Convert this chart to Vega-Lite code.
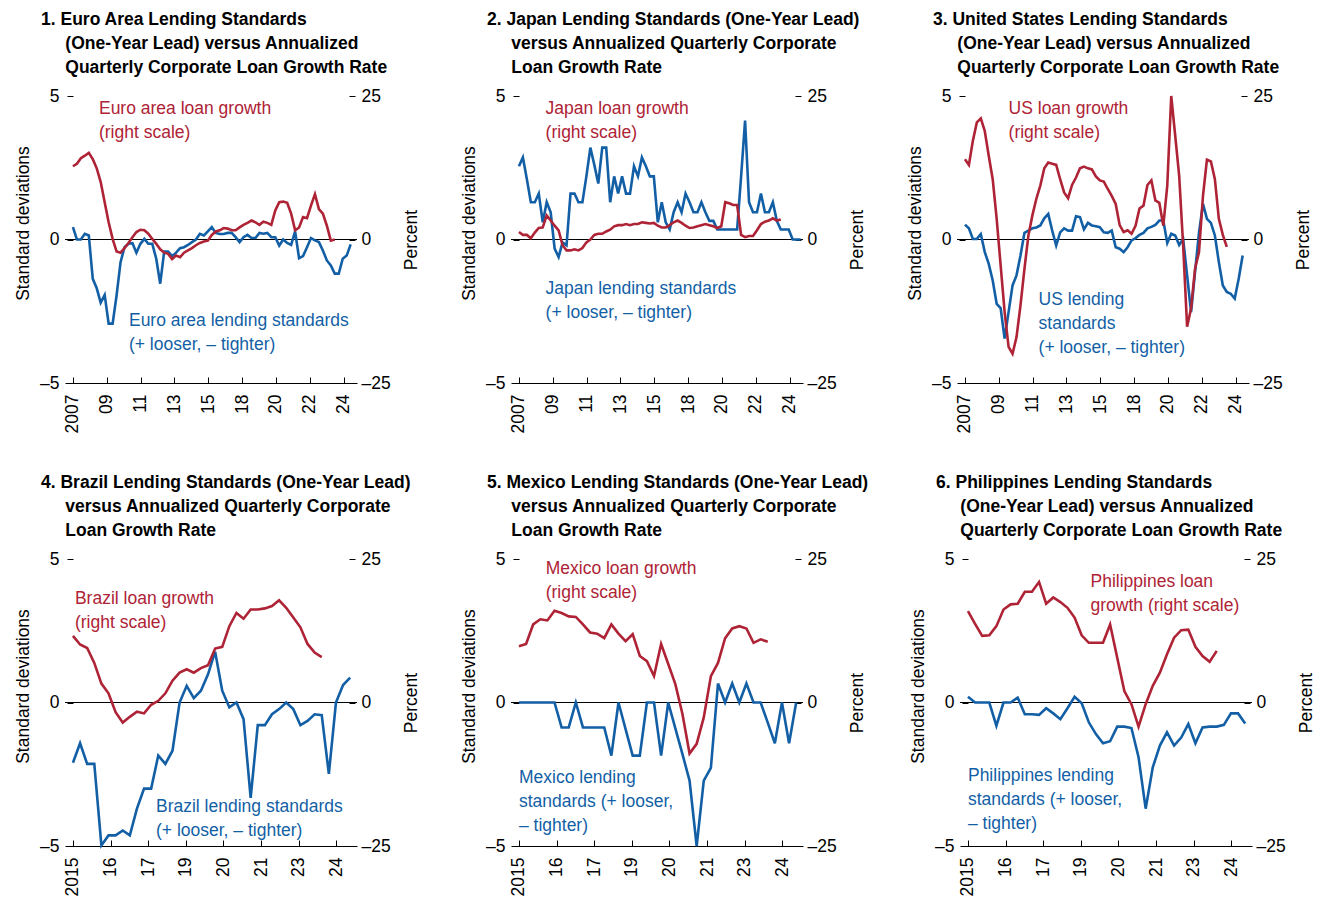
{
"$schema": "https://vega.github.io/schema/vega-lite/v6.json",
"background": "white",
"padding": {"left": 14, "top": 10, "right": 0, "bottom": 0},
"config": {"font": "Liberation Sans", "view": {"stroke": null},
  "axis": {"labelFontSize": 17.5, "titleFontSize": 17.5, "labelColor": "#000", "titleColor": "#000", "tickColor": "#000", "domainColor": "#000", "grid": false, "titleFontWeight": "normal", "labelFlush": false, "labelOverlap": false, "tickWidth": 1, "domainWidth": 1},
  "text": {"fontSize": 17.5, "lineHeight": 24, "align": "left", "baseline": "alphabetic"},
  "title": {"anchor": "start", "frame": "group", "dx": -24, "offset": 11, "fontSize": 17.5, "fontWeight": "bold", "lineHeight": 24, "color": "#000"}},
"datasets": {
"p1b": [{"t":2007,"v":0.43},{"t":2007.25,"v":0},{"t":2007.5,"v":0},{"t":2007.75,"v":0.2},{"t":2008,"v":0.14},{"t":2008.25,"v":-1.37},{"t":2008.5,"v":-1.7},{"t":2008.75,"v":-2.2},{"t":2009,"v":-1.93},{"t":2009.25,"v":-2.93},{"t":2009.5,"v":-2.93},{"t":2009.75,"v":-1.95},{"t":2010,"v":-0.79},{"t":2010.25,"v":-0.27},{"t":2010.5,"v":-0.15},{"t":2010.75,"v":-0.13},{"t":2011,"v":-0.46},{"t":2011.25,"v":-0.15},{"t":2011.5,"v":0.02},{"t":2011.75,"v":-0.15},{"t":2012,"v":-0.15},{"t":2012.25,"v":-0.67},{"t":2012.5,"v":-1.54},{"t":2012.75,"v":-0.42},{"t":2013,"v":-0.42},{"t":2013.25,"v":-0.58},{"t":2013.5,"v":-0.46},{"t":2013.75,"v":-0.3},{"t":2014,"v":-0.27},{"t":2014.25,"v":-0.19},{"t":2014.5,"v":-0.09},{"t":2014.75,"v":0},{"t":2015,"v":0.2},{"t":2015.25,"v":0.14},{"t":2015.5,"v":0.28},{"t":2015.75,"v":0.43},{"t":2016,"v":0.23},{"t":2016.25,"v":0.19},{"t":2016.5,"v":0.19},{"t":2016.75,"v":0.23},{"t":2017,"v":0.23},{"t":2017.25,"v":0.08},{"t":2017.5,"v":-0.09},{"t":2017.75,"v":0.08},{"t":2018,"v":0.16},{"t":2018.25,"v":0.05},{"t":2018.5,"v":0.05},{"t":2018.75,"v":0.23},{"t":2019,"v":0.2},{"t":2019.25,"v":0.23},{"t":2019.5,"v":0.08},{"t":2019.75,"v":0.08},{"t":2020,"v":-0.21},{"t":2020.25,"v":0},{"t":2020.5,"v":-0.12},{"t":2020.75,"v":-0.19},{"t":2021,"v":0.28},{"t":2021.25,"v":-0.65},{"t":2021.5,"v":-0.58},{"t":2021.75,"v":-0.27},{"t":2022,"v":0.05},{"t":2022.25,"v":-0.03},{"t":2022.5,"v":-0.09},{"t":2022.75,"v":-0.38},{"t":2023,"v":-0.73},{"t":2023.25,"v":-0.9},{"t":2023.5,"v":-1.19},{"t":2023.75,"v":-1.19},{"t":2024,"v":-0.67},{"t":2024.25,"v":-0.56},{"t":2024.5,"v":-0.17}],
"p1r": [{"t":2007,"v":12.76},{"t":2007.25,"v":13.2},{"t":2007.5,"v":14.15},{"t":2007.75,"v":14.6},{"t":2008,"v":15.1},{"t":2008.25,"v":14.0},{"t":2008.5,"v":12.4},{"t":2008.75,"v":10.0},{"t":2009,"v":6.5},{"t":2009.25,"v":3.0},{"t":2009.5,"v":0.1},{"t":2009.75,"v":-2.1},{"t":2010,"v":-2.3},{"t":2010.25,"v":-1.5},{"t":2010.5,"v":-0.6},{"t":2010.75,"v":0.4},{"t":2011,"v":1.3},{"t":2011.25,"v":1.7},{"t":2011.5,"v":1.6},{"t":2011.75,"v":1.0},{"t":2012,"v":0.1},{"t":2012.25,"v":-0.75},{"t":2012.5,"v":-1.7},{"t":2012.75,"v":-2.3},{"t":2013,"v":-2.5},{"t":2013.25,"v":-3.4},{"t":2013.5,"v":-2.8},{"t":2013.75,"v":-3.1},{"t":2014,"v":-2.3},{"t":2014.25,"v":-1.9},{"t":2014.5,"v":-1.5},{"t":2014.75,"v":-1.0},{"t":2015,"v":-0.6},{"t":2015.25,"v":-0.35},{"t":2015.5,"v":-0.2},{"t":2015.75,"v":0.8},{"t":2016,"v":1.4},{"t":2016.25,"v":1.6},{"t":2016.5,"v":2.0},{"t":2016.75,"v":1.9},{"t":2017,"v":1.6},{"t":2017.25,"v":1.6},{"t":2017.5,"v":2.1},{"t":2017.75,"v":2.55},{"t":2018,"v":2.9},{"t":2018.25,"v":3.3},{"t":2018.5,"v":3.0},{"t":2018.75,"v":2.55},{"t":2019,"v":3.1},{"t":2019.25,"v":2.9},{"t":2019.5,"v":2.55},{"t":2019.75,"v":5.05},{"t":2020,"v":6.5},{"t":2020.25,"v":6.6},{"t":2020.5,"v":6.4},{"t":2020.75,"v":4.5},{"t":2021,"v":1.6},{"t":2021.25,"v":2.1},{"t":2021.5,"v":3.9},{"t":2021.75,"v":3.7},{"t":2022,"v":5.9},{"t":2022.25,"v":7.9},{"t":2022.5,"v":5.3},{"t":2022.75,"v":4.5},{"t":2023,"v":2.4},{"t":2023.25,"v":-0.2},{"t":2023.5,"v":0}],
"p2b": [{"t":2007,"v":2.55},{"t":2007.25,"v":2.86},{"t":2007.5,"v":2.1},{"t":2007.75,"v":1.3},{"t":2008,"v":1.3},{"t":2008.25,"v":1.6},{"t":2008.5,"v":0.6},{"t":2008.75,"v":1.3},{"t":2009,"v":0.95},{"t":2009.25,"v":-0.32},{"t":2009.5,"v":-0.61},{"t":2009.75,"v":-0.1},{"t":2010,"v":-0.2},{"t":2010.25,"v":1.6},{"t":2010.5,"v":1.6},{"t":2010.75,"v":1.3},{"t":2011,"v":1.3},{"t":2011.25,"v":2.2},{"t":2011.5,"v":3.2},{"t":2011.75,"v":2.6},{"t":2012,"v":1.95},{"t":2012.25,"v":3.2},{"t":2012.5,"v":3.2},{"t":2012.75,"v":1.3},{"t":2013,"v":2.2},{"t":2013.25,"v":1.6},{"t":2013.5,"v":2.2},{"t":2013.75,"v":1.6},{"t":2014,"v":1.6},{"t":2014.25,"v":2.55},{"t":2014.5,"v":2.2},{"t":2014.75,"v":2.86},{"t":2015,"v":2.55},{"t":2015.25,"v":2.2},{"t":2015.5,"v":2.2},{"t":2015.75,"v":0.6},{"t":2016,"v":1.3},{"t":2016.25,"v":0.6},{"t":2016.5,"v":0.35},{"t":2016.75,"v":0.95},{"t":2017,"v":1.3},{"t":2017.25,"v":0.95},{"t":2017.5,"v":1.6},{"t":2017.75,"v":1.3},{"t":2018,"v":0.95},{"t":2018.25,"v":0.95},{"t":2018.5,"v":1.3},{"t":2018.75,"v":0.95},{"t":2019,"v":0.65},{"t":2019.25,"v":0.65},{"t":2019.5,"v":0.35},{"t":2019.75,"v":0.35},{"t":2020,"v":0.35},{"t":2020.25,"v":0.35},{"t":2020.5,"v":0.35},{"t":2020.75,"v":0.35},{"t":2021,"v":2.2},{"t":2021.25,"v":4.14},{"t":2021.5,"v":1.3},{"t":2021.75,"v":0.95},{"t":2022,"v":0.95},{"t":2022.25,"v":1.6},{"t":2022.5,"v":0.95},{"t":2022.75,"v":0.95},{"t":2023,"v":1.3},{"t":2023.25,"v":0.65},{"t":2023.5,"v":0.35},{"t":2023.75,"v":0.35},{"t":2024,"v":0.35},{"t":2024.25,"v":0},{"t":2024.5,"v":0},{"t":2024.75,"v":0}],
"p2r": [{"t":2007,"v":1.3},{"t":2007.25,"v":0.8},{"t":2007.5,"v":0.8},{"t":2007.75,"v":0.2},{"t":2008,"v":1.2},{"t":2008.25,"v":2.0},{"t":2008.5,"v":2.1},{"t":2008.75,"v":4.2},{"t":2009,"v":3.3},{"t":2009.25,"v":2.4},{"t":2009.5,"v":1.6},{"t":2009.75,"v":-1.0},{"t":2010,"v":-1.9},{"t":2010.25,"v":-1.9},{"t":2010.5,"v":-1.7},{"t":2010.75,"v":-1.9},{"t":2011,"v":-1.5},{"t":2011.25,"v":-0.5},{"t":2011.5,"v":0},{"t":2011.75,"v":0.8},{"t":2012,"v":1.0},{"t":2012.25,"v":1.0},{"t":2012.5,"v":1.4},{"t":2012.75,"v":1.7},{"t":2013,"v":2.3},{"t":2013.25,"v":2.5},{"t":2013.5,"v":2.5},{"t":2013.75,"v":2.7},{"t":2014,"v":2.5},{"t":2014.25,"v":2.7},{"t":2014.5,"v":2.7},{"t":2014.75,"v":3.0},{"t":2015,"v":2.9},{"t":2015.25,"v":2.8},{"t":2015.5,"v":2.9},{"t":2015.75,"v":2.4},{"t":2016,"v":2.1},{"t":2016.25,"v":2.1},{"t":2016.5,"v":2.5},{"t":2016.75,"v":3.0},{"t":2017,"v":3.3},{"t":2017.25,"v":2.9},{"t":2017.5,"v":2.4},{"t":2017.75,"v":2.0},{"t":2018,"v":2.1},{"t":2018.25,"v":2.3},{"t":2018.5,"v":2.5},{"t":2018.75,"v":2.7},{"t":2019,"v":2.5},{"t":2019.25,"v":2.3},{"t":2019.5,"v":2.0},{"t":2019.75,"v":2.3},{"t":2020,"v":6.5},{"t":2020.25,"v":6.3},{"t":2020.5,"v":6.0},{"t":2020.75,"v":6.0},{"t":2021,"v":0.8},{"t":2021.25,"v":0.4},{"t":2021.5,"v":0.6},{"t":2021.75,"v":0.6},{"t":2022,"v":1.6},{"t":2022.25,"v":2.7},{"t":2022.5,"v":3.1},{"t":2022.75,"v":3.3},{"t":2023,"v":3.7},{"t":2023.25,"v":3.3},{"t":2023.5,"v":3.5}],
"p3b": [{"t":2007,"v":0.52},{"t":2007.25,"v":0.39},{"t":2007.5,"v":0.02},{"t":2007.75,"v":0.02},{"t":2008,"v":0.19},{"t":2008.25,"v":-0.44},{"t":2008.5,"v":-0.85},{"t":2008.75,"v":-1.43},{"t":2009,"v":-2.24},{"t":2009.25,"v":-2.39},{"t":2009.5,"v":-3.45},{"t":2009.75,"v":-2.53},{"t":2010,"v":-1.6},{"t":2010.25,"v":-1.25},{"t":2010.5,"v":-0.56},{"t":2010.75,"v":0.23},{"t":2011,"v":0.31},{"t":2011.25,"v":0.39},{"t":2011.5,"v":0.42},{"t":2011.75,"v":0.49},{"t":2012,"v":0.74},{"t":2012.25,"v":0.89},{"t":2012.5,"v":0.31},{"t":2012.75,"v":-0.21},{"t":2013,"v":0.25},{"t":2013.25,"v":0.39},{"t":2013.5,"v":0.31},{"t":2013.75,"v":0.31},{"t":2014,"v":0.81},{"t":2014.25,"v":0.78},{"t":2014.5,"v":0.35},{"t":2014.75,"v":0.58},{"t":2015,"v":0.49},{"t":2015.25,"v":0.46},{"t":2015.5,"v":0.43},{"t":2015.75,"v":0.25},{"t":2016,"v":0.23},{"t":2016.25,"v":0.31},{"t":2016.5,"v":-0.27},{"t":2016.75,"v":-0.32},{"t":2017,"v":-0.44},{"t":2017.25,"v":-0.27},{"t":2017.5,"v":-0.03},{"t":2017.75,"v":0.05},{"t":2018,"v":0.16},{"t":2018.25,"v":0.23},{"t":2018.5,"v":0.39},{"t":2018.75,"v":0.44},{"t":2019,"v":0.51},{"t":2019.25,"v":0.66},{"t":2019.5,"v":0.66},{"t":2019.75,"v":-0.12},{"t":2020,"v":0.2},{"t":2020.25,"v":0.14},{"t":2020.5,"v":-0.19},{"t":2020.75,"v":0.02},{"t":2021,"v":-1.25},{"t":2021.25,"v":-2.53},{"t":2021.5,"v":-1.14},{"t":2021.75,"v":0.25},{"t":2022,"v":1.24},{"t":2022.25,"v":0.72},{"t":2022.5,"v":0.58},{"t":2022.75,"v":0.14},{"t":2023,"v":-0.79},{"t":2023.25,"v":-1.6},{"t":2023.5,"v":-1.83},{"t":2023.75,"v":-1.89},{"t":2024,"v":-2.06},{"t":2024.25,"v":-1.37},{"t":2024.5,"v":-0.56}],
"p3r": [{"t":2007,"v":14.0},{"t":2007.25,"v":13.0},{"t":2007.5,"v":17.2},{"t":2007.75,"v":20.4},{"t":2008,"v":21.1},{"t":2008.25,"v":18.9},{"t":2008.5,"v":14.6},{"t":2008.75,"v":10.5},{"t":2009,"v":3.6},{"t":2009.25,"v":-4.5},{"t":2009.5,"v":-12.6},{"t":2009.75,"v":-18.7},{"t":2010,"v":-19.9},{"t":2010.25,"v":-17.0},{"t":2010.5,"v":-11.5},{"t":2010.75,"v":-5.1},{"t":2011,"v":0.7},{"t":2011.25,"v":4.2},{"t":2011.5,"v":7.1},{"t":2011.75,"v":9.4},{"t":2012,"v":12.4},{"t":2012.25,"v":13.4},{"t":2012.5,"v":13.2},{"t":2012.75,"v":13.0},{"t":2013,"v":10.5},{"t":2013.25,"v":8.2},{"t":2013.5,"v":7.2},{"t":2013.75,"v":9.5},{"t":2014,"v":10.8},{"t":2014.25,"v":12.4},{"t":2014.5,"v":12.7},{"t":2014.75,"v":12.4},{"t":2015,"v":12.2},{"t":2015.25,"v":11.0},{"t":2015.5,"v":10.3},{"t":2015.75,"v":10.1},{"t":2016,"v":8.8},{"t":2016.25,"v":7.6},{"t":2016.5,"v":6.2},{"t":2016.75,"v":2.5},{"t":2017,"v":1.3},{"t":2017.25,"v":1.6},{"t":2017.5,"v":1.0},{"t":2017.75,"v":2.4},{"t":2018,"v":5.4},{"t":2018.25,"v":5.9},{"t":2018.5,"v":9.5},{"t":2018.75,"v":10.3},{"t":2019,"v":6.8},{"t":2019.25,"v":6.4},{"t":2019.5,"v":2.4},{"t":2019.75,"v":9.4},{"t":2020,"v":25.0},{"t":2020.25,"v":18.1},{"t":2020.5,"v":11.1},{"t":2020.75,"v":-1.0},{"t":2021,"v":-15.2},{"t":2021.25,"v":-12.0},{"t":2021.5,"v":-5.1},{"t":2021.75,"v":-2.2},{"t":2022,"v":7.6},{"t":2022.25,"v":13.9},{"t":2022.5,"v":13.6},{"t":2022.75,"v":10.5},{"t":2023,"v":3.6},{"t":2023.25,"v":0.8},{"t":2023.5,"v":-1.3}],
"p4b": [{"t":2015,"v":-2.1},{"t":2015.25,"v":-1.42},{"t":2015.5,"v":-2.14},{"t":2015.75,"v":-2.14},{"t":2016,"v":-4.98},{"t":2016.25,"v":-4.63},{"t":2016.5,"v":-4.63},{"t":2016.75,"v":-4.46},{"t":2017,"v":-4.63},{"t":2017.25,"v":-3.7},{"t":2017.5,"v":-3.0},{"t":2017.75,"v":-3.0},{"t":2018,"v":-1.85},{"t":2018.25,"v":-2.14},{"t":2018.5,"v":-1.68},{"t":2018.75,"v":0},{"t":2019,"v":0.58},{"t":2019.25,"v":0.15},{"t":2019.5,"v":0.41},{"t":2019.75,"v":0.98},{"t":2020,"v":1.77},{"t":2020.25,"v":0.41},{"t":2020.5,"v":-0.17},{"t":2020.75,"v":0},{"t":2021,"v":-0.58},{"t":2021.25,"v":-3.32},{"t":2021.5,"v":-0.79},{"t":2021.75,"v":-0.79},{"t":2022,"v":-0.41},{"t":2022.25,"v":-0.23},{"t":2022.5,"v":0},{"t":2022.75,"v":-0.23},{"t":2023,"v":-0.79},{"t":2023.25,"v":-0.64},{"t":2023.5,"v":-0.41},{"t":2023.75,"v":-0.44},{"t":2024,"v":-2.49},{"t":2024.25,"v":0},{"t":2024.5,"v":0.61},{"t":2024.75,"v":0.87}],
"p4r": [{"t":2015,"v":11.6},{"t":2015.25,"v":10.1},{"t":2015.5,"v":9.5},{"t":2015.75,"v":6.9},{"t":2016,"v":3.3},{"t":2016.25,"v":1.6},{"t":2016.5,"v":-1.7},{"t":2016.75,"v":-3.5},{"t":2017,"v":-2.5},{"t":2017.25,"v":-1.6},{"t":2017.5,"v":-1.9},{"t":2017.75,"v":-0.4},{"t":2018,"v":0.3},{"t":2018.25,"v":1.6},{"t":2018.5,"v":3.8},{"t":2018.75,"v":5.2},{"t":2019,"v":5.8},{"t":2019.25,"v":5.2},{"t":2019.5,"v":6.0},{"t":2019.75,"v":6.5},{"t":2020,"v":9.4},{"t":2020.25,"v":9.7},{"t":2020.5,"v":13.3},{"t":2020.75,"v":15.6},{"t":2021,"v":14.6},{"t":2021.25,"v":16.2},{"t":2021.5,"v":16.2},{"t":2021.75,"v":16.4},{"t":2022,"v":16.8},{"t":2022.25,"v":17.8},{"t":2022.5,"v":16.5},{"t":2022.75,"v":14.8},{"t":2023,"v":13.1},{"t":2023.25,"v":10.2},{"t":2023.5,"v":8.7},{"t":2023.75,"v":7.9}],
"p5b": [{"t":2015,"v":0},{"t":2015.25,"v":0},{"t":2015.5,"v":0},{"t":2015.75,"v":0},{"t":2016,"v":0},{"t":2016.25,"v":0},{"t":2016.5,"v":-0.87},{"t":2016.75,"v":-0.87},{"t":2017,"v":0},{"t":2017.25,"v":-0.87},{"t":2017.5,"v":-0.87},{"t":2017.75,"v":-0.87},{"t":2018,"v":-0.87},{"t":2018.25,"v":-1.85},{"t":2018.5,"v":0},{"t":2018.75,"v":-0.93},{"t":2019,"v":-1.85},{"t":2019.25,"v":-1.85},{"t":2019.5,"v":0},{"t":2019.75,"v":0},{"t":2020,"v":-1.85},{"t":2020.25,"v":0},{"t":2020.5,"v":-0.9},{"t":2020.75,"v":-1.8},{"t":2021,"v":-2.72},{"t":2021.25,"v":-5.0},{"t":2021.5,"v":-2.72},{"t":2021.75,"v":-2.28},{"t":2022,"v":0.66},{"t":2022.25,"v":0},{"t":2022.5,"v":0.66},{"t":2022.75,"v":0},{"t":2023,"v":0.66},{"t":2023.25,"v":0},{"t":2023.5,"v":0},{"t":2023.75,"v":-0.7},{"t":2024,"v":-1.42},{"t":2024.25,"v":0},{"t":2024.5,"v":-1.42},{"t":2024.75,"v":0}],
"p5r": [{"t":2015,"v":9.8},{"t":2015.25,"v":10.2},{"t":2015.5,"v":13.6},{"t":2015.75,"v":14.5},{"t":2016,"v":14.3},{"t":2016.25,"v":16.0},{"t":2016.5,"v":15.6},{"t":2016.75,"v":15.0},{"t":2017,"v":14.9},{"t":2017.25,"v":13.6},{"t":2017.5,"v":12.2},{"t":2017.75,"v":12.0},{"t":2018,"v":11.2},{"t":2018.25,"v":13.6},{"t":2018.5,"v":12.0},{"t":2018.75,"v":10.7},{"t":2019,"v":11.9},{"t":2019.25,"v":8.1},{"t":2019.5,"v":7.2},{"t":2019.75,"v":4.6},{"t":2020,"v":10.2},{"t":2020.25,"v":6.7},{"t":2020.5,"v":3.2},{"t":2020.75,"v":-2.0},{"t":2021,"v":-8.9},{"t":2021.25,"v":-7.2},{"t":2021.5,"v":-2.6},{"t":2021.75,"v":4.6},{"t":2022,"v":6.9},{"t":2022.25,"v":11.2},{"t":2022.5,"v":12.9},{"t":2022.75,"v":13.3},{"t":2023,"v":12.9},{"t":2023.25,"v":10.4},{"t":2023.5,"v":11.0},{"t":2023.75,"v":10.6}],
"p6b": [{"t":2015,"v":0.2},{"t":2015.25,"v":0},{"t":2015.5,"v":0},{"t":2015.75,"v":0},{"t":2016,"v":-0.81},{"t":2016.25,"v":0},{"t":2016.5,"v":0},{"t":2016.75,"v":0.17},{"t":2017,"v":-0.41},{"t":2017.25,"v":-0.41},{"t":2017.5,"v":-0.43},{"t":2017.75,"v":-0.2},{"t":2018,"v":-0.38},{"t":2018.25,"v":-0.58},{"t":2018.5,"v":-0.2},{"t":2018.75,"v":0.2},{"t":2019,"v":-0.03},{"t":2019.25,"v":-0.69},{"t":2019.5,"v":-1.1},{"t":2019.75,"v":-1.42},{"t":2020,"v":-1.35},{"t":2020.25,"v":-0.84},{"t":2020.5,"v":-0.84},{"t":2020.75,"v":-0.89},{"t":2021,"v":-1.91},{"t":2021.25,"v":-3.7},{"t":2021.5,"v":-2.26},{"t":2021.75,"v":-1.5},{"t":2022,"v":-1.04},{"t":2022.25,"v":-1.5},{"t":2022.5,"v":-1.22},{"t":2022.75,"v":-0.75},{"t":2023,"v":-1.42},{"t":2023.25,"v":-0.87},{"t":2023.5,"v":-0.84},{"t":2023.75,"v":-0.84},{"t":2024,"v":-0.78},{"t":2024.25,"v":-0.38},{"t":2024.5,"v":-0.38},{"t":2024.75,"v":-0.73}],
"p6r": [{"t":2015,"v":15.9},{"t":2015.25,"v":13.7},{"t":2015.5,"v":11.6},{"t":2015.75,"v":11.7},{"t":2016,"v":13.3},{"t":2016.25,"v":16.2},{"t":2016.5,"v":17.1},{"t":2016.75,"v":17.2},{"t":2017,"v":19.3},{"t":2017.25,"v":19.3},{"t":2017.5,"v":21.0},{"t":2017.75,"v":17.2},{"t":2018,"v":18.3},{"t":2018.25,"v":17.5},{"t":2018.5,"v":16.5},{"t":2018.75,"v":14.8},{"t":2019,"v":11.7},{"t":2019.25,"v":10.4},{"t":2019.5,"v":10.4},{"t":2019.75,"v":10.4},{"t":2020,"v":13.6},{"t":2020.25,"v":7.8},{"t":2020.5,"v":2.0},{"t":2020.75,"v":-0.3},{"t":2021,"v":-4.2},{"t":2021.25,"v":-0.3},{"t":2021.5,"v":2.9},{"t":2021.75,"v":5.2},{"t":2022,"v":8.4},{"t":2022.25,"v":11.3},{"t":2022.5,"v":12.6},{"t":2022.75,"v":12.7},{"t":2023,"v":9.7},{"t":2023.25,"v":8.1},{"t":2023.5,"v":7.1},{"t":2023.75,"v":9.0}]
},
"spacing": 40,
"vconcat": [
{"spacing": 40, "hconcat": [
{"width":292,"height":287,
 "title":{"text":["1. Euro Area Lending Standards","\u200b\u00a0\u00a0\u00a0\u00a0\u00a0(One-Year Lead) versus Annualized","\u200b\u00a0\u00a0\u00a0\u00a0\u00a0Quarterly Corporate Loan Growth Rate"]},
 "layer":[
  {"layer":[
   {"data":{"values":[{}]},"mark":{"type":"rule","color":"#000","strokeWidth":1},"encoding":{"y":{"datum":0,"type":"quantitative","scale":{"domain":[-5,5],"nice":false}}}},
   {"data":{"name":"p1b"},"mark":{"type":"line","color":"#135FA6","strokeWidth":2.6},"encoding":{
     "x":{"field":"t","type":"quantitative","scale":{"domain":[2006.5,2024.9],"nice":false,"zero":false},"axis":{"values":[2007,2009.132,2011.264,2013.396,2015.528,2017.66,2019.792,2021.924,2024.056],"tickCount":20,"labelExpr":"['2007','09','11','13','15','18','20','22','24'][round((datum.value-2007)/2.132)]","title":null,"domain":true,"ticks":true,"tickSize":-6,"labelAngle":-90,"labelAlign":"right","labelBaseline":"middle","labelPadding":17}},
     "y":{"field":"v","type":"quantitative","scale":{"domain":[-5,5],"nice":false},"axis":{"orient":"left","values":[-5,0,5],"labelExpr":"datum.value < 0 ? '–' + abs(datum.value) : '' + datum.value","domain":false,"ticks":true,"tickSize":6,"offset":-8,"labelPadding":8,"title":"Standard deviations","titlePadding":7,"titleY":127}}}},
   {"data":{"values":[{}]},"mark":{"type":"text","color":"#AE2335"},"encoding":{"x":{"datum":2008.64,"type":"quantitative"},"y":{"datum":4.37,"type":"quantitative"},"text":{"value":["Euro area loan growth","(right scale)"]}}},
   {"data":{"values":[{}]},"mark":{"type":"text","color":"#135FA6"},"encoding":{"x":{"datum":2010.53,"type":"quantitative"},"y":{"datum":-3.0,"type":"quantitative"},"text":{"value":["Euro area lending standards","(+ looser, – tighter)"]}}}
  ]},
  {"data":{"name":"p1r"},"mark":{"type":"line","color":"#AE2335","strokeWidth":2.6},"encoding":{
    "x":{"field":"t","type":"quantitative"},
    "y":{"field":"v","type":"quantitative","scale":{"domain":[-25,25],"nice":false},"axis":{"orient":"right","values":[-25,0,25],"labelExpr":"datum.value < 0 ? '–' + abs(datum.value) : '' + datum.value","domain":false,"ticks":true,"tickSize":6,"offset":-8,"labelPadding":6,"title":"Percent","titleAngle":-90,"titleBaseline":"top","titlePadding":12}}}}
 ],
 "resolve":{"scale":{"y":"independent"}}},
{"width":292,"height":287,
 "title":{"text":["2. Japan Lending Standards (One-Year Lead)","\u200b\u00a0\u00a0\u00a0\u00a0\u00a0versus Annualized Quarterly Corporate","\u200b\u00a0\u00a0\u00a0\u00a0\u00a0Loan Growth Rate"]},
 "layer":[
  {"layer":[
   {"data":{"values":[{}]},"mark":{"type":"rule","color":"#000","strokeWidth":1},"encoding":{"y":{"datum":0,"type":"quantitative","scale":{"domain":[-5,5],"nice":false}}}},
   {"data":{"name":"p2b"},"mark":{"type":"line","color":"#135FA6","strokeWidth":2.6},"encoding":{
     "x":{"field":"t","type":"quantitative","scale":{"domain":[2006.5,2024.9],"nice":false,"zero":false},"axis":{"values":[2007,2009.132,2011.264,2013.396,2015.528,2017.66,2019.792,2021.924,2024.056],"tickCount":20,"labelExpr":"['2007','09','11','13','15','18','20','22','24'][round((datum.value-2007)/2.132)]","title":null,"domain":true,"ticks":true,"tickSize":-6,"labelAngle":-90,"labelAlign":"right","labelBaseline":"middle","labelPadding":17}},
     "y":{"field":"v","type":"quantitative","scale":{"domain":[-5,5],"nice":false},"axis":{"orient":"left","values":[-5,0,5],"labelExpr":"datum.value < 0 ? '–' + abs(datum.value) : '' + datum.value","domain":false,"ticks":true,"tickSize":6,"offset":-8,"labelPadding":8,"title":"Standard deviations","titlePadding":7,"titleY":127}}}},
   {"data":{"values":[{}]},"mark":{"type":"text","color":"#AE2335"},"encoding":{"x":{"datum":2008.68,"type":"quantitative"},"y":{"datum":4.37,"type":"quantitative"},"text":{"value":["Japan loan growth","(right scale)"]}}},
   {"data":{"values":[{}]},"mark":{"type":"text","color":"#135FA6"},"encoding":{"x":{"datum":2008.68,"type":"quantitative"},"y":{"datum":-1.9,"type":"quantitative"},"text":{"value":["Japan lending standards","(+ looser, – tighter)"]}}}
  ]},
  {"data":{"name":"p2r"},"mark":{"type":"line","color":"#AE2335","strokeWidth":2.6},"encoding":{
    "x":{"field":"t","type":"quantitative"},
    "y":{"field":"v","type":"quantitative","scale":{"domain":[-25,25],"nice":false},"axis":{"orient":"right","values":[-25,0,25],"labelExpr":"datum.value < 0 ? '–' + abs(datum.value) : '' + datum.value","domain":false,"ticks":true,"tickSize":6,"offset":-8,"labelPadding":6,"title":"Percent","titleAngle":-90,"titleBaseline":"top","titlePadding":12}}}}
 ],
 "resolve":{"scale":{"y":"independent"}}},
{"width":292,"height":287,
 "title":{"text":["3. United States Lending Standards","\u200b\u00a0\u00a0\u00a0\u00a0\u00a0(One-Year Lead) versus Annualized","\u200b\u00a0\u00a0\u00a0\u00a0\u00a0Quarterly Corporate Loan Growth Rate"]},
 "layer":[
  {"layer":[
   {"data":{"values":[{}]},"mark":{"type":"rule","color":"#000","strokeWidth":1},"encoding":{"y":{"datum":0,"type":"quantitative","scale":{"domain":[-5,5],"nice":false}}}},
   {"data":{"name":"p3b"},"mark":{"type":"line","color":"#135FA6","strokeWidth":2.6},"encoding":{
     "x":{"field":"t","type":"quantitative","scale":{"domain":[2006.5,2024.9],"nice":false,"zero":false},"axis":{"values":[2007,2009.132,2011.264,2013.396,2015.528,2017.66,2019.792,2021.924,2024.056],"tickCount":20,"labelExpr":"['2007','09','11','13','15','18','20','22','24'][round((datum.value-2007)/2.132)]","title":null,"domain":true,"ticks":true,"tickSize":-6,"labelAngle":-90,"labelAlign":"right","labelBaseline":"middle","labelPadding":17}},
     "y":{"field":"v","type":"quantitative","scale":{"domain":[-5,5],"nice":false},"axis":{"orient":"left","values":[-5,0,5],"labelExpr":"datum.value < 0 ? '–' + abs(datum.value) : '' + datum.value","domain":false,"ticks":true,"tickSize":6,"offset":-8,"labelPadding":8,"title":"Standard deviations","titlePadding":7,"titleY":127}}}},
   {"data":{"values":[{}]},"mark":{"type":"text","color":"#AE2335"},"encoding":{"x":{"datum":2009.75,"type":"quantitative"},"y":{"datum":4.37,"type":"quantitative"},"text":{"value":["US loan growth","(right scale)"]}}},
   {"data":{"values":[{}]},"mark":{"type":"text","color":"#135FA6"},"encoding":{"x":{"datum":2011.64,"type":"quantitative"},"y":{"datum":-2.28,"type":"quantitative"},"text":{"value":["US lending","standards","(+ looser, – tighter)"]}}}
  ]},
  {"data":{"name":"p3r"},"mark":{"type":"line","color":"#AE2335","strokeWidth":2.6},"encoding":{
    "x":{"field":"t","type":"quantitative"},
    "y":{"field":"v","type":"quantitative","scale":{"domain":[-25,25],"nice":false},"axis":{"orient":"right","values":[-25,0,25],"labelExpr":"datum.value < 0 ? '–' + abs(datum.value) : '' + datum.value","domain":false,"ticks":true,"tickSize":6,"offset":-8,"labelPadding":6,"title":"Percent","titleAngle":-90,"titleBaseline":"top","titlePadding":12}}}}
 ],
 "resolve":{"scale":{"y":"independent"}}}
]},
{"spacing": 40, "hconcat": [
{"width":292,"height":287,
 "title":{"text":["4. Brazil Lending Standards (One-Year Lead)","\u200b\u00a0\u00a0\u00a0\u00a0\u00a0versus Annualized Quarterly Corporate","\u200b\u00a0\u00a0\u00a0\u00a0\u00a0Loan Growth Rate"]},
 "layer":[
  {"layer":[
   {"data":{"values":[{}]},"mark":{"type":"rule","color":"#000","strokeWidth":1},"encoding":{"y":{"datum":0,"type":"quantitative","scale":{"domain":[-5,5],"nice":false}}}},
   {"data":{"name":"p4b"},"mark":{"type":"line","color":"#135FA6","strokeWidth":2.6},"encoding":{
     "x":{"field":"t","type":"quantitative","scale":{"domain":[2014.72,2024.99],"nice":false,"zero":false},"axis":{"values":[2015,2016.323,2017.646,2018.969,2020.292,2021.615,2022.938,2024.261],"tickCount":20,"labelExpr":"['2015','16','17','19','20','21','23','24'][round((datum.value-2015)/1.323)]","title":null,"domain":true,"ticks":true,"tickSize":-6,"labelAngle":-90,"labelAlign":"right","labelBaseline":"middle","labelPadding":17}},
     "y":{"field":"v","type":"quantitative","scale":{"domain":[-5,5],"nice":false},"axis":{"orient":"left","values":[-5,0,5],"labelExpr":"datum.value < 0 ? '–' + abs(datum.value) : '' + datum.value","domain":false,"ticks":true,"tickSize":6,"offset":-8,"labelPadding":8,"title":"Standard deviations","titlePadding":7,"titleY":127}}}},
   {"data":{"values":[{}]},"mark":{"type":"text","color":"#AE2335"},"encoding":{"x":{"datum":2015.07,"type":"quantitative"},"y":{"datum":3.44,"type":"quantitative"},"text":{"value":["Brazil loan growth","(right scale)"]}}},
   {"data":{"values":[{}]},"mark":{"type":"text","color":"#135FA6"},"encoding":{"x":{"datum":2017.92,"type":"quantitative"},"y":{"datum":-3.81,"type":"quantitative"},"text":{"value":["Brazil lending standards","(+ looser, – tighter)"]}}}
  ]},
  {"data":{"name":"p4r"},"mark":{"type":"line","color":"#AE2335","strokeWidth":2.6},"encoding":{
    "x":{"field":"t","type":"quantitative"},
    "y":{"field":"v","type":"quantitative","scale":{"domain":[-25,25],"nice":false},"axis":{"orient":"right","values":[-25,0,25],"labelExpr":"datum.value < 0 ? '–' + abs(datum.value) : '' + datum.value","domain":false,"ticks":true,"tickSize":6,"offset":-8,"labelPadding":6,"title":"Percent","titleAngle":-90,"titleBaseline":"top","titlePadding":12}}}}
 ],
 "resolve":{"scale":{"y":"independent"}}},
{"width":292,"height":287,
 "title":{"text":["5. Mexico Lending Standards (One-Year Lead)","\u200b\u00a0\u00a0\u00a0\u00a0\u00a0versus Annualized Quarterly Corporate","\u200b\u00a0\u00a0\u00a0\u00a0\u00a0Loan Growth Rate"]},
 "layer":[
  {"layer":[
   {"data":{"values":[{}]},"mark":{"type":"rule","color":"#000","strokeWidth":1},"encoding":{"y":{"datum":0,"type":"quantitative","scale":{"domain":[-5,5],"nice":false}}}},
   {"data":{"name":"p5b"},"mark":{"type":"line","color":"#135FA6","strokeWidth":2.6},"encoding":{
     "x":{"field":"t","type":"quantitative","scale":{"domain":[2014.72,2024.99],"nice":false,"zero":false},"axis":{"values":[2015,2016.323,2017.646,2018.969,2020.292,2021.615,2022.938,2024.261],"tickCount":20,"labelExpr":"['2015','16','17','19','20','21','23','24'][round((datum.value-2015)/1.323)]","title":null,"domain":true,"ticks":true,"tickSize":-6,"labelAngle":-90,"labelAlign":"right","labelBaseline":"middle","labelPadding":17}},
     "y":{"field":"v","type":"quantitative","scale":{"domain":[-5,5],"nice":false},"axis":{"orient":"left","values":[-5,0,5],"labelExpr":"datum.value < 0 ? '–' + abs(datum.value) : '' + datum.value","domain":false,"ticks":true,"tickSize":6,"offset":-8,"labelPadding":8,"title":"Standard deviations","titlePadding":7,"titleY":127}}}},
   {"data":{"values":[{}]},"mark":{"type":"text","color":"#AE2335"},"encoding":{"x":{"datum":2015.94,"type":"quantitative"},"y":{"datum":4.48,"type":"quantitative"},"text":{"value":["Mexico loan growth","(right scale)"]}}},
   {"data":{"values":[{}]},"mark":{"type":"text","color":"#135FA6"},"encoding":{"x":{"datum":2015.0,"type":"quantitative"},"y":{"datum":-2.82,"type":"quantitative"},"text":{"value":["Mexico lending","standards (+ looser,","– tighter)"]}}}
  ]},
  {"data":{"name":"p5r"},"mark":{"type":"line","color":"#AE2335","strokeWidth":2.6},"encoding":{
    "x":{"field":"t","type":"quantitative"},
    "y":{"field":"v","type":"quantitative","scale":{"domain":[-25,25],"nice":false},"axis":{"orient":"right","values":[-25,0,25],"labelExpr":"datum.value < 0 ? '–' + abs(datum.value) : '' + datum.value","domain":false,"ticks":true,"tickSize":6,"offset":-8,"labelPadding":6,"title":"Percent","titleAngle":-90,"titleBaseline":"top","titlePadding":12}}}}
 ],
 "resolve":{"scale":{"y":"independent"}}},
{"width":292,"height":287,
 "title":{"text":["6. Philippines Lending Standards","\u200b\u00a0\u00a0\u00a0\u00a0\u00a0(One-Year Lead) versus Annualized","\u200b\u00a0\u00a0\u00a0\u00a0\u00a0Quarterly Corporate Loan Growth Rate"]},
 "layer":[
  {"layer":[
   {"data":{"values":[{}]},"mark":{"type":"rule","color":"#000","strokeWidth":1},"encoding":{"y":{"datum":0,"type":"quantitative","scale":{"domain":[-5,5],"nice":false}}}},
   {"data":{"name":"p6b"},"mark":{"type":"line","color":"#135FA6","strokeWidth":2.6},"encoding":{
     "x":{"field":"t","type":"quantitative","scale":{"domain":[2014.72,2024.99],"nice":false,"zero":false},"axis":{"values":[2015,2016.323,2017.646,2018.969,2020.292,2021.615,2022.938,2024.261],"tickCount":20,"labelExpr":"['2015','16','17','19','20','21','23','24'][round((datum.value-2015)/1.323)]","title":null,"domain":true,"ticks":true,"tickSize":-6,"labelAngle":-90,"labelAlign":"right","labelBaseline":"middle","labelPadding":17}},
     "y":{"field":"v","type":"quantitative","scale":{"domain":[-5,5],"nice":false},"axis":{"orient":"left","values":[-5,0,5],"labelExpr":"datum.value < 0 ? '–' + abs(datum.value) : '' + datum.value","domain":false,"ticks":true,"tickSize":6,"offset":-8,"labelPadding":8,"title":"Standard deviations","titlePadding":7,"titleY":127}}}},
   {"data":{"values":[{}]},"mark":{"type":"text","color":"#AE2335"},"encoding":{"x":{"datum":2019.31,"type":"quantitative"},"y":{"datum":4.02,"type":"quantitative"},"text":{"value":["Philippines loan","growth (right scale)"]}}},
   {"data":{"values":[{}]},"mark":{"type":"text","color":"#135FA6"},"encoding":{"x":{"datum":2015.0,"type":"quantitative"},"y":{"datum":-2.73,"type":"quantitative"},"text":{"value":["Philippines lending","standards (+ looser,","– tighter)"]}}}
  ]},
  {"data":{"name":"p6r"},"mark":{"type":"line","color":"#AE2335","strokeWidth":2.6},"encoding":{
    "x":{"field":"t","type":"quantitative"},
    "y":{"field":"v","type":"quantitative","scale":{"domain":[-25,25],"nice":false},"axis":{"orient":"right","values":[-25,0,25],"labelExpr":"datum.value < 0 ? '–' + abs(datum.value) : '' + datum.value","domain":false,"ticks":true,"tickSize":6,"offset":-8,"labelPadding":6,"title":"Percent","titleAngle":-90,"titleBaseline":"top","titlePadding":12}}}}
 ],
 "resolve":{"scale":{"y":"independent"}}}
]}
]
}
